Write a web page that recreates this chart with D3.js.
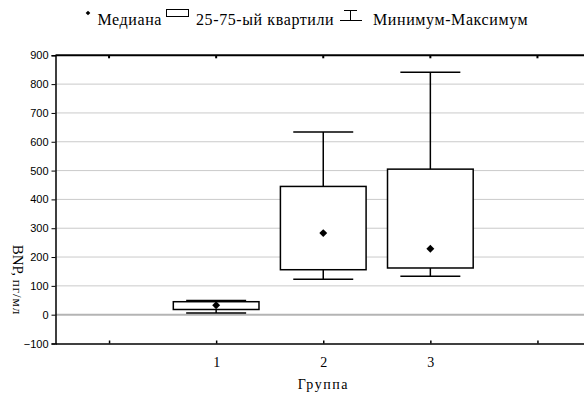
<!DOCTYPE html>
<html>
<head>
<meta charset="utf-8">
<script src="https://cdn.jsdelivr.net/npm/d3@7"></script>
<style>
  body { margin: 0; background: #fff; }
  svg { display: block; }
</style>
</head>
<body>
<div id="chart"></div>
<script>
// box plot data
var groups = ["1", "2", "3"];
var minVals = [6, 123, 133];
var q1Vals = [18, 156, 162];
var medianVals = [33, 283, 229];
var q3Vals = [45, 445, 505];
var maxVals = [49, 634, 841];
var yTicks = [-100, 0, 100, 200, 300, 400, 500, 600, 700, 800, 900];
var legendLabels = ["Медиана", "25-75-ый квартили", "Минимум-Максимум"];

var width = 584, height = 396;
var serif = "'Liberation Serif', 'Times New Roman', serif";
var sans = "'Liberation Sans', Arial, sans-serif";

var svg = d3.select("#chart")
    .append("svg")
    .attr("width", width)
    .attr("height", height);

// category positions 0..4, groups sit on 1..3
var x = d3.scaleLinear().domain([-0.5, 4.5]).range([55.5, 591]);
var y = d3.scaleLinear().domain([-100, 900]).range([343.5, 55.3]);

var data = groups.map(function (g, i) {
    return { name: g, pos: i + 1, min: minVals[i], q1: q1Vals[i], med: medianVals[i], q3: q3Vals[i], max: maxVals[i] };
});

// gridlines
svg.append("g")
    .selectAll("line")
    .data(yTicks.filter(function (d) { return d > -100 && d < 900; }))
    .enter()
    .append("line")
    .attr("x1", x(-0.5))
    .attr("x2", width)
    .attr("y1", function (d) { return y(d); })
    .attr("y2", function (d) { return y(d); })
    .attr("stroke", function (d) { return d === 0 ? "#b4b4b4" : "#cacaca"; })
    .attr("stroke-width", function (d) { return d === 0 ? 2 : 1; });

// left axis
var yAxis = svg.append("g")
    .attr("transform", "translate(" + x(-0.5) + ",0)")
    .call(d3.axisLeft(y).tickValues(yTicks).tickSize(4).tickPadding(3));
yAxis.select(".domain").attr("stroke", "#000").attr("stroke-width", 1.5);
yAxis.selectAll(".tick line").attr("stroke", "#000");
yAxis.selectAll("text")
    .style("font-family", sans)
    .style("font-size", "11px")
    .attr("fill", "#000");

// bottom axis, ticks pointing up into the plot
var xAxis = svg.append("g")
    .attr("transform", "translate(0," + y(-100) + ")")
    .call(d3.axisBottom(x).tickValues([0, 1, 2, 3, 4]).tickSize(-3).tickSizeOuter(0)
        .tickFormat(function (d) { return (d >= 1 && d <= 3) ? groups[d - 1] : ""; }));
xAxis.select(".domain").attr("stroke", "#000").attr("stroke-width", 1.5);
xAxis.selectAll(".tick line").attr("stroke", "#000").attr("stroke-width", 1.5);
xAxis.selectAll("text")
    .attr("y", 14)
    .style("font-family", serif)
    .style("font-size", "14px")
    .attr("fill", "#000");

// top border with small tick marks
svg.append("line")
    .attr("x1", x(-0.5)).attr("x2", width)
    .attr("y1", y(900)).attr("y2", y(900))
    .attr("stroke", "#000").attr("stroke-width", 2);
svg.append("g")
    .selectAll("line")
    .data([0, 1, 2, 3, 4])
    .enter()
    .append("line")
    .attr("x1", function (d) { return x(d); })
    .attr("x2", function (d) { return x(d); })
    .attr("y1", y(900))
    .attr("y2", y(900) + 3)
    .attr("stroke", "#000").attr("stroke-width", 2);

// boxes
var boxHalf = 0.4, capHalf = 0.28;
var boxes = svg.append("g")
    .selectAll("g")
    .data(data)
    .enter()
    .append("g");

boxes.append("line")
    .attr("x1", function (d) { return x(d.pos); })
    .attr("x2", function (d) { return x(d.pos); })
    .attr("y1", function (d) { return y(d.max); })
    .attr("y2", function (d) { return y(d.min); })
    .attr("stroke", "#000").attr("stroke-width", 1.5);

boxes.selectAll(".cap")
    .data(function (d) { return [{ p: d.pos, v: d.min }, { p: d.pos, v: d.max }]; })
    .enter()
    .append("line")
    .attr("class", "cap")
    .attr("x1", function (d) { return x(d.p - capHalf); })
    .attr("x2", function (d) { return x(d.p + capHalf); })
    .attr("y1", function (d) { return y(d.v); })
    .attr("y2", function (d) { return y(d.v); })
    .attr("stroke", "#000").attr("stroke-width", 1.5);

boxes.append("rect")
    .attr("x", function (d) { return x(d.pos - boxHalf); })
    .attr("width", function (d) { return x(d.pos + boxHalf) - x(d.pos - boxHalf); })
    .attr("y", function (d) { return y(d.q3); })
    .attr("height", function (d) { return y(d.q1) - y(d.q3); })
    .attr("fill", "#fff")
    .attr("stroke", "#000").attr("stroke-width", 1.5);

boxes.append("path")
    .attr("d", d3.symbol().type(d3.symbolDiamond2).size(40))
    .attr("transform", function (d) { return "translate(" + x(d.pos) + "," + y(d.med) + ")"; })
    .attr("fill", "#000");

// axis titles
svg.append("text")
    .attr("x", (x(-0.5) + x(4.5)) / 2)
    .attr("y", 389)
    .attr("text-anchor", "middle")
    .style("font-family", serif)
    .style("font-size", "14px")
    .style("letter-spacing", "1.5px")
    .text("Группа");

var yTitle = svg.append("text")
    .attr("transform", "translate(13,280) rotate(90)")
    .attr("text-anchor", "middle")
    .style("font-family", serif);
yTitle.append("tspan").style("font-size", "15px").text("BNP, ");
yTitle.append("tspan").style("font-size", "13px").style("letter-spacing", "1px").text("пг/мл");

// legend
var legend = svg.append("g")
    .style("font-family", serif)
    .style("font-size", "16px")
    .style("letter-spacing", "0.6px");
legend.append("path")
    .attr("d", d3.symbol().type(d3.symbolDiamond2).size(14))
    .attr("transform", "translate(88,13)")
    .attr("fill", "#000");
legend.append("text").attr("text-anchor", "end").attr("x", 162).attr("y", 25).text(legendLabels[0]);
legend.append("rect")
    .attr("x", 166.5).attr("y", 9.5).attr("width", 22).attr("height", 7)
    .attr("fill", "#fff").attr("stroke", "#000").attr("stroke-width", 1);
legend.append("text").attr("x", 196).attr("y", 25).text(legendLabels[1]);
legend.append("path")
    .attr("d", "M344,10.5H357M350.5,10.5V20.5M340,20.5H362")
    .attr("fill", "none").attr("stroke", "#000").attr("stroke-width", 1);
legend.append("text").attr("x", 373).attr("y", 25).text(legendLabels[2]);
</script>
</body>
</html>
